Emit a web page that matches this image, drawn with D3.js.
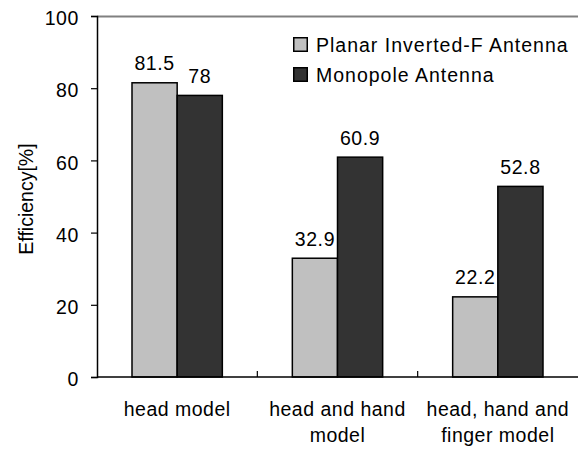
<!DOCTYPE html>
<html>
<head>
<meta charset="utf-8">
<script src="https://cdn.jsdelivr.net/npm/d3@7"></script>
<style>
  body { margin: 0; background: #fff; }
  text { font-family: "Liberation Sans", Arial, sans-serif; fill: #000; }
</style>
</head>
<body>
<div id="chart"></div>
<script>
const categories = [["head model"], ["head and hand", "model"], ["head, hand and", "finger model"]];
const seriesNames = ["Planar Inverted-F Antenna", "Monopole Antenna"];
const pifaValues = [81.5, 32.9, 22.2];
const monopoleValues = [78, 60.9, 52.8];
const yTicks = [0, 20, 40, 60, 80, 100];

const W = 578, H = 449;
const margin = { top: 16, right: 0, bottom: 72, left: 97 };
const width = W - margin.left - margin.right;
const height = H - margin.top - margin.bottom;
const colors = ["#c0c0c0", "#333333"];
const fs = "19.5px";

const svg = d3.select("#chart").append("svg")
  .attr("width", W).attr("height", H);
const g = svg.append("g").attr("transform", `translate(${margin.left},${margin.top})`);

const x0 = d3.scaleBand().domain(d3.range(categories.length)).range([0, width]);
const x1 = d3.scaleBand().domain([0, 1]).range([35, x0.bandwidth() - 35]);
const y = d3.scaleLinear().domain([0, 100]).range([height, 0]);

// top frame line
g.append("line").attr("x1", 0).attr("x2", width).attr("y1", 0.5).attr("y2", 0.5)
  .attr("stroke", "#808080").attr("stroke-width", 2);

const series = [pifaValues, monopoleValues];
series.forEach((vals, s) => {
  g.selectAll(".bar" + s).data(vals).enter().append("rect")
    .attr("x", (d, i) => x0(i) + x1(s))
    .attr("y", d => y(d))
    .attr("width", x1.bandwidth())
    .attr("height", d => y(0) - y(d))
    .attr("fill", colors[s])
    .attr("stroke", "#000").attr("stroke-width", 1.5);
  g.selectAll(".lab" + s).data(vals).enter().append("text")
    .attr("x", (d, i) => x0(i) + x1(s) + x1.bandwidth() / 2)
    .attr("y", d => y(d) - 12.5)
    .attr("text-anchor", "middle")
    .style("font-size", fs).style("letter-spacing", "0.6px")
    .text(d => d);
});

// y axis
const yAxis = g.append("g").call(d3.axisLeft(y).tickValues(yTicks).tickSize(6).tickPadding(12));
yAxis.select(".domain").attr("stroke", "#000").attr("stroke-width", 1.5);
yAxis.selectAll(".tick line").attr("stroke", "#000").attr("stroke-width", 1.2);
yAxis.selectAll(".tick text").style("font-size", fs).style("letter-spacing", "0.6px")
  .attr("dy", "0.45em").attr("fill", "#000");

// x axis baseline and separators
g.append("line").attr("x1", 0).attr("x2", width).attr("y1", height).attr("y2", height)
  .attr("stroke", "#000").attr("stroke-width", 1.5);
g.selectAll(".sep").data(d3.range(1, categories.length)).enter().append("line")
  .attr("x1", i => x0(i)).attr("x2", i => x0(i))
  .attr("y1", height).attr("y2", height - 6)
  .attr("stroke", "#000").attr("stroke-width", 1.2);

categories.forEach((lines, i) => {
  const t = g.append("text")
    .attr("x", x0(i) + x0.bandwidth() / 2)
    .attr("y", height + 39)
    .attr("text-anchor", "middle")
    .style("font-size", fs).style("letter-spacing", "0.5px");
  lines.forEach((ln, k) => {
    t.append("tspan").attr("x", x0(i) + x0.bandwidth() / 2)
      .attr("dy", k === 0 ? 0 : 26).text(ln);
  });
});

// y label
svg.append("text")
  .attr("transform", "translate(33,199) rotate(-90)")
  .attr("text-anchor", "middle")
  .style("font-size", fs)
  .text("Efficiency[%]");

// legend
const legend = svg.append("g").attr("transform", "translate(293,37)");
seriesNames.forEach((name, i) => {
  const row = legend.append("g").attr("transform", `translate(0,${i * 30})`);
  row.append("rect").attr("x", 0.75).attr("y", 0.75).attr("width", 13.5).attr("height", 13.5)
    .attr("fill", colors[i]).attr("stroke", "#000").attr("stroke-width", 1.5);
  row.append("text").attr("x", 23).attr("y", 15).style("font-size", fs)
    .style("letter-spacing", "1px").text(name);
});
</script>
</body>
</html>
